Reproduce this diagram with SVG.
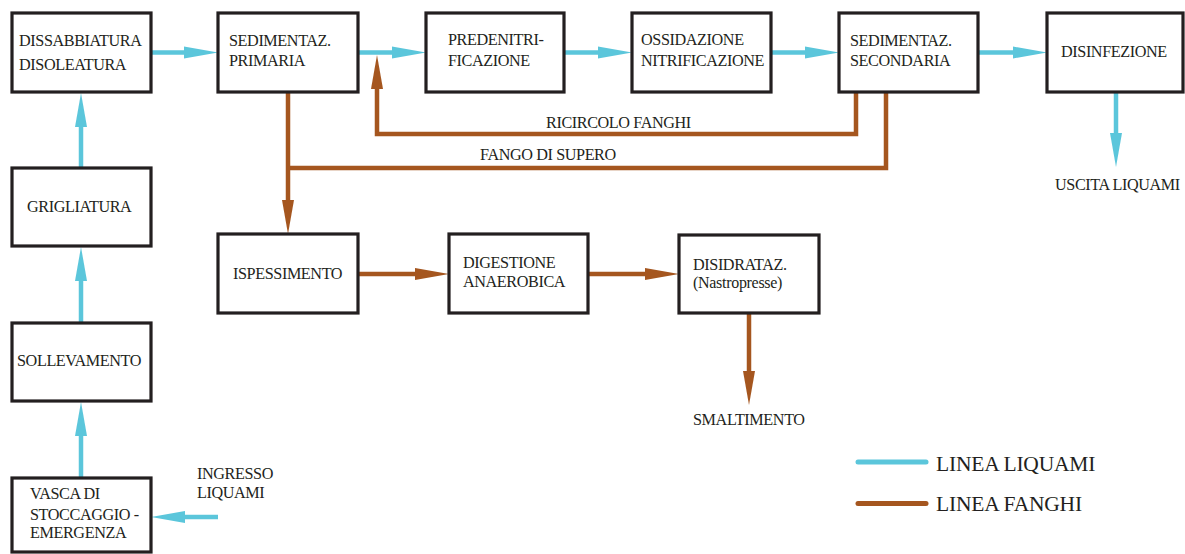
<svg xmlns="http://www.w3.org/2000/svg" width="1185" height="554" viewBox="0 0 1185 554">
  <style>
    .box { fill: #ffffff; stroke: #231f20; stroke-width: 3.2; }
    text { font-family: 'Liberation Serif', 'DejaVu Serif', serif; fill: #231f20; }
    .t { font-size: 16.2px; letter-spacing: -0.4px; }
    .ts { font-size: 16px; letter-spacing: -0.3px; }
    .tl { font-size: 21.5px; letter-spacing: -0.2px; }
    .liq { fill: none; stroke: #5bc6db; stroke-width: 4.5; }
    .fan { fill: none; stroke: #a5561f; stroke-width: 4.5; }
  </style>
  <defs>
    <marker id="headLiq" markerUnits="userSpaceOnUse" markerWidth="36" markerHeight="14" refX="0" refY="7" orient="auto" overflow="visible">
      <path d="M0,1 L34,7 L0,13 Z" fill="#5bc6db"/>
    </marker>
    <marker id="headFan" markerUnits="userSpaceOnUse" markerWidth="36" markerHeight="14" refX="0" refY="7" orient="auto" overflow="visible">
      <path d="M0,1 L34,7 L0,13 Z" fill="#a5561f"/>
    </marker>
  </defs>

  <rect width="1185" height="554" fill="#ffffff"/>

  <!-- connectors -->
  <g id="connectors">
    <!-- wastewater line -->
    <path class="liq" d="M151,52.5 H184" marker-end="url(#headLiq)"/>
    <path class="liq" d="M358,52.5 H392" marker-end="url(#headLiq)"/>
    <path class="liq" d="M564,52.5 H598" marker-end="url(#headLiq)"/>
    <path class="liq" d="M771,52.5 H805" marker-end="url(#headLiq)"/>
    <path class="liq" d="M978,52.5 H1013" marker-end="url(#headLiq)"/>
    <path class="liq" d="M81,168 V127" marker-end="url(#headLiq)"/>
    <path class="liq" d="M81,323 V281" marker-end="url(#headLiq)"/>
    <path class="liq" d="M81,478 V436" marker-end="url(#headLiq)"/>
    <path class="liq" d="M218,517 H185" marker-end="url(#headLiq)"/>
    <path class="liq" d="M1116,92 V133" marker-end="url(#headLiq)"/>

    <!-- sludge line -->
    <path class="fan" d="M856,92 V134 H377 V89" marker-end="url(#headFan)"/>
    <path class="fan" d="M886,92 V168 H288"/>
    <path class="fan" d="M288,92 V200" marker-end="url(#headFan)"/>
    <path class="fan" d="M358,274 H415" marker-end="url(#headFan)"/>
    <path class="fan" d="M588,274 H645" marker-end="url(#headFan)"/>
    <path class="fan" d="M749,313 V371" marker-end="url(#headFan)"/>

    <!-- connector labels -->
    <text class="t" x="546" y="128">RICIRCOLO FANGHI</text>
    <text class="t" x="480" y="160">FANGO DI SUPERO</text>
    <text class="t" x="1055" y="190">USCITA LIQUAMI</text>
    <text class="t" x="197" y="479">INGRESSO</text>
    <text class="t" x="197" y="498">LIQUAMI</text>
    <text class="t" x="693" y="425">SMALTIMENTO</text>
  </g>

  <!-- nodes -->
  <g id="dissabbiatura">
    <rect class="box" x="12" y="13" width="139" height="79"/>
    <text class="t" x="19" y="46">DISSABBIATURA</text>
    <text class="t" x="19" y="70">DISOLEATURA</text>
  </g>
  <g id="sedimentazione-primaria">
    <rect class="box" x="218" y="13" width="140" height="79"/>
    <text class="t" x="229" y="46">SEDIMENTAZ.</text>
    <text class="t" x="229" y="66">PRIMARIA</text>
  </g>
  <g id="predenitrificazione">
    <rect class="box" x="426" y="13" width="138" height="79"/>
    <text class="t" x="448" y="45">PREDENITRI-</text>
    <text class="t" x="448" y="66">FICAZIONE</text>
  </g>
  <g id="ossidazione">
    <rect class="box" x="632" y="13" width="139" height="79"/>
    <text class="t" x="641" y="45">OSSIDAZIONE</text>
    <text class="t" x="641" y="66">NITRIFICAZIONE</text>
  </g>
  <g id="sedimentazione-secondaria">
    <rect class="box" x="839" y="13" width="139" height="79"/>
    <text class="t" x="850" y="46">SEDIMENTAZ.</text>
    <text class="t" x="850" y="66">SECONDARIA</text>
  </g>
  <g id="disinfezione">
    <rect class="box" x="1047" y="13" width="136" height="79"/>
    <text class="t" x="1061" y="57">DISINFEZIONE</text>
  </g>
  <g id="grigliatura">
    <rect class="box" x="12" y="168" width="139" height="78"/>
    <text class="t" x="27" y="212">GRIGLIATURA</text>
  </g>
  <g id="sollevamento">
    <rect class="box" x="12" y="323" width="139" height="78"/>
    <text class="t" x="17" y="366">SOLLEVAMENTO</text>
  </g>
  <g id="vasca-stoccaggio">
    <rect class="box" x="12" y="478" width="139" height="74"/>
    <text class="t" x="30" y="499">VASCA DI</text>
    <text class="t" x="30" y="520">STOCCAGGIO -</text>
    <text class="t" x="30" y="538">EMERGENZA</text>
  </g>
  <g id="ispessimento">
    <rect class="box" x="218" y="234" width="140" height="79"/>
    <text class="t" x="233" y="279">ISPESSIMENTO</text>
  </g>
  <g id="digestione">
    <rect class="box" x="449" y="234" width="139" height="79"/>
    <text class="t" x="463" y="268">DIGESTIONE</text>
    <text class="t" x="463" y="287">ANAEROBICA</text>
  </g>
  <g id="disidratazione">
    <rect class="box" x="679" y="235" width="140" height="78"/>
    <text class="t" x="693" y="270">DISIDRATAZ.</text>
    <text class="ts" x="693" y="288">(Nastropresse)</text>
  </g>

  <!-- legend -->
  <g id="legend">
    <line x1="858" y1="462" x2="926" y2="462" stroke="#5bc6db" stroke-width="5" stroke-linecap="round"/>
    <text class="tl" x="936" y="471">LINEA LIQUAMI</text>
    <line x1="858" y1="503.5" x2="926" y2="503.5" stroke="#a5561f" stroke-width="5" stroke-linecap="round"/>
    <text class="tl" x="936" y="511">LINEA FANGHI</text>
  </g>
</svg>
